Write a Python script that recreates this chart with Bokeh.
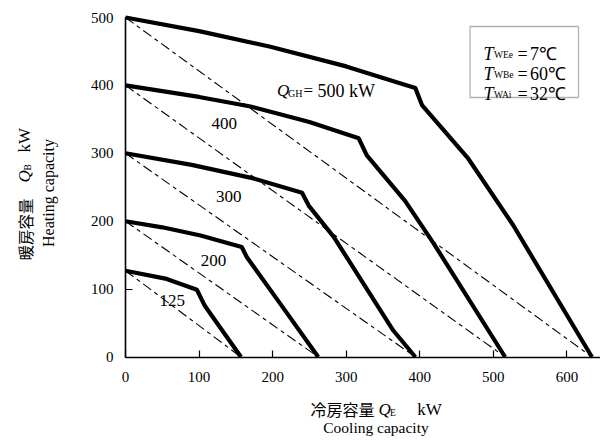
import math
from bokeh.plotting import figure
from bokeh.models import Label, BoxAnnotation, FixedTicker
from bokeh.embed import file_html
from bokeh.resources import INLINE

# ---------------- data ----------------
x_ticks = [0, 100, 200, 300, 400, 500, 600]
y_ticks = [0, 100, 200, 300, 400, 500]

qe_125 = [0, 56, 97, 108, 157]
qb_125 = [127, 115, 99, 75, 0]

qe_200 = [0, 50, 102, 158, 165, 210, 262]
qb_200 = [200, 191, 179, 162, 147, 79, 0]

qe_300 = [0, 90, 174, 240, 249, 283, 364, 394]
qb_300 = [300, 283, 263, 242, 223, 177, 39, 0]

qe_400 = [0, 100, 170, 250, 317, 328, 380, 419, 516]
qb_400 = [400, 383, 369, 346, 322, 297, 230, 167, 0]

qe_500 = [0, 100, 197, 300, 373, 394, 403, 466, 527, 634]
qb_500 = [500, 480, 457, 428, 403, 396, 371, 292, 194, 0]

curve_names = ["125", "200", "300", "400", "500"]
curves_qe = [qe_125, qe_200, qe_300, qe_400, qe_500]
curves_qb = [qb_125, qb_200, qb_300, qb_400, qb_500]

cond_names = ["WEe", "WBe", "WAi"]
cond_values = ["7℃", "60℃", "32℃"]

# ---------------- layout: frame covers the whole canvas ----------------
W, H = 600, 440
X0PX, XS = 125.0, 0.7357    # pixel of Qe=0, pixels per kW
Y0PX, YS = 356.5, 0.679     # pixel of Qb=0, pixels per kW

p = figure(width=W, height=H,
           x_range=(-X0PX / XS, (W - X0PX) / XS),
           y_range=((Y0PX - H) / YS, Y0PX / YS),
           output_backend="svg", toolbar_location=None, title=None,
           min_border=0)
p.outline_line_color = None
p.grid.grid_line_color = None
p.background_fill_color = "white"
p.border_fill_color = "white"

for ax in (p.xaxis[0], p.yaxis[0]):
    ax.fixed_location = 0
    ax.axis_line_color = "black"
    ax.axis_line_width = 1.6
    ax.major_tick_in = 7
    ax.major_tick_out = 0
    ax.major_tick_line_width = 1.2
    ax.minor_tick_line_color = None
    ax.major_label_text_font = "Liberation Serif"
    ax.major_label_text_font_size = "15px"
    ax.major_label_text_color = "black"
p.xaxis.ticker = FixedTicker(ticks=x_ticks)
p.yaxis.ticker = FixedTicker(ticks=y_ticks)
p.xaxis.major_label_standoff = 15
p.yaxis.major_label_standoff = 12
p.yaxis.bounds = (0, 500)
p.xaxis.bounds = (0, 650)


def dx(px):
    return (px - X0PX) / XS


def dy(py):
    return (Y0PX - py) / YS


# dashed reference lines from (0, Q) to (Qe_end, 0)
for qe, qb in zip(curves_qe, curves_qb):
    p.line([0, qe[-1]], [qb[0], 0], line_color="black", line_width=1.1,
           line_dash="10 4 4 4")

# bold curves
for qe, qb in zip(curves_qe, curves_qb):
    p.line(qe, qb, line_color="black", line_width=4.2, line_join="round")


def add_text(px, py, text, size, font="Liberation Serif", style="normal",
             align="left", baseline="middle", angle=0.0):
    p.add_layout(Label(x=dx(px), y=dy(py), text=text, text_font=font,
                       text_font_size=f"{size}px", text_font_style=style,
                       text_align=align, text_baseline=baseline,
                       text_color="black", angle=angle))


# curve labels
label_pos = {"125": (171.7, 300), "200": (213, 260), "300": (228.3, 196.3),
             "400": (223.7, 122.5)}
for name in curve_names[:-1]:
    px, py = label_pos[name]
    add_text(px, py, name, 17, align="center")

# Q_GH = 500 kW
add_text(276.5, 90, "Q", 17, style="italic")
add_text(287.5, 93, "GH", 10)
add_text(303, 90, "=", 17)
add_text(317, 90, curve_names[-1] + " kW", 18)

# condition box
p.add_layout(BoxAnnotation(left=dx(469.5), right=dx(578), top=dy(26),
                           bottom=dy(97), fill_alpha=0, line_color="black",
                           line_width=1.3))
for i, (nm, val) in enumerate(zip(cond_names, cond_values)):
    base = 53 + 20 * i
    add_text(483, base, "T", 18, style="italic", baseline="alphabetic")
    add_text(493.5, base + 1, nm, 9.5, baseline="alphabetic")
    add_text(517, base, "=", 18, baseline="alphabetic")
    add_text(529.5, base, val, 18, baseline="alphabetic")

# x axis label
add_text(310, 408, "冷房容量", 16, font="Noto Sans CJK JP")
add_text(378, 409, "Q", 17, style="italic")
add_text(389.5, 412, "E", 9.5)
add_text(416.7, 409, "kW", 17)
add_text(375.5, 427, "Cooling capacity", 15.5, align="center")

# y axis label (rotated)
a = math.pi / 2
add_text(24, 260, "暖房容量", 15.5, font="Noto Sans CJK JP", angle=a)
add_text(24, 182, "Q", 17, style="italic", angle=a)
add_text(27, 170, "B", 9.5, angle=a)
add_text(24, 152, "kW", 17, angle=a)
add_text(47.5, 192.5, "Heating capacity", 16, align="center", angle=a)

open("out.html", "w").write(file_html(p, INLINE))
